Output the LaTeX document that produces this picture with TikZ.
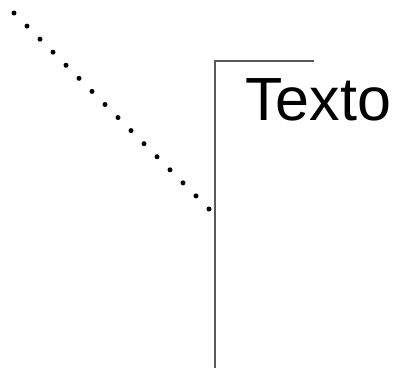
\documentclass[tikz,border=0pt]{standalone}
\usepackage{fontspec}
\setmainfont{Liberation Sans}
\usepackage{tikz}
\usetikzlibrary{positioning,calc}

\begin{document}
\begin{tikzpicture}[x=1pt,y=-1pt]
  \useasboundingbox (0,0) rectangle (396,367);
  % dotted diagonal
  \coordinate (d0) at (14,13);
  \coordinate (d1) at (209,209);
  \foreach \i in {0,...,15}
    \fill ($(d0)!\i/15!(d1)$) circle (2.5pt);
  % frame corner
  \coordinate (top) at (215,61);
  \coordinate (bot) at (215,368);
  \coordinate (rt) at (314,61);
  \draw[color=black!65,line width=1.2pt] (rt) -- (top) -- (bot);
  \node[anchor=base west,inner sep=0pt] (txt) at (245,120) {\fontsize{61}{68}\selectfont Texto};
\end{tikzpicture}
\end{document}
